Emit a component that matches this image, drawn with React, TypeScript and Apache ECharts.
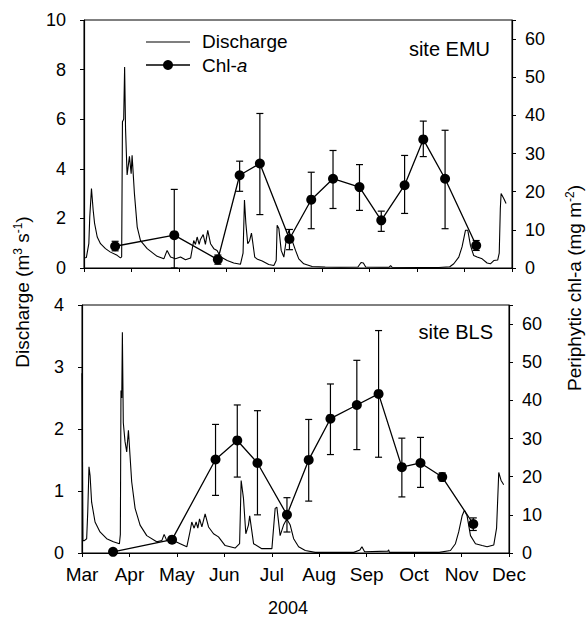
import React, { useEffect, useRef } from 'react';
import * as echarts from 'echarts';

// ---------- data ----------
const MONTHS = ['Mar', 'Apr', 'May', 'Jun', 'Jul', 'Aug', 'Sep', 'Oct', 'Nov', 'Dec'];
const X_SPAN_DAYS = 275; // 1 Mar 2004 .. 1 Dec 2004
const MONTH_STEP = X_SPAN_DAYS / 9;

const dischargeTicksEMU = [0, 2, 4, 6, 8, 10];
const dischargeTicksBLS = [0, 1, 2, 3, 4];
const chlTicks = [0, 10, 20, 30, 40, 50, 60];

// sampling days (days since 1 March 2004)
const sampleDays = [20, 58, 86, 100, 113, 132, 146, 160, 177, 191, 206, 218, 232, 252];

// site EMU periphytic chl-a (mg m-2) with error-bar limits
const emuChl = [5.7, 8.6, 2.2, 24.3, 27.4, 7.6, 17.9, 23.4, 21.2, 12.5, 21.7, 33.7, 23.4, 5.9];
const emuLow = [4.5, 0, 1.0, 20.1, 14.0, 4.8, 10.3, 15.6, 15.1, 9.6, 14.3, 29.2, 10.3, 4.6];
const emuHigh = [7.0, 20.6, 3.4, 28.0, 40.5, 10.1, 25.1, 30.8, 27.1, 14.9, 29.5, 38.5, 36.1, 7.2];

// site BLS periphytic chl-a (mg m-2) with error-bar limits
const blsChl = [0.3, 3.5, 24.5, 29.5, 23.6, 10.0, 24.4, 35.2, 38.8, 41.7, 22.5, 23.6, 19.9, 7.6];
const blsLow = [0.3, 3.0, 15.1, 19.9, 10.0, 5.5, 13.6, 25.8, 27.1, 25.1, 14.7, 17.2, 18.9, 5.9];
const blsHigh = [0.3, 4.0, 33.7, 38.8, 37.3, 14.5, 35.0, 44.3, 50.5, 58.3, 30.1, 30.3, 21.0, 9.2];

// discharge (m3 s-1): [day since 1 March, value]
const emuDischarge = [
  [0, 0.4], [1.5, 0.42], [3.1, 0.98], [3.7, 2.06], [4.8, 3.2], [5.9, 2.33], [6.8, 1.8], [8.5, 1.25],
  [10.6, 0.98], [13.8, 0.78], [17, 0.64], [21.3, 0.51], [23.4, 0.41], [24.2, 0.45], [24.7, 5.9],
  [25.5, 6.0], [26.1, 8.1], [26.7, 5.6], [27.7, 3.75], [29.2, 4.5], [30.3, 3.8], [30.9, 4.55],
  [32.4, 3.0], [34.2, 1.65], [36.3, 1.1], [40.6, 0.78], [47, 0.47], [51.3, 0.37], [53.4, 0.71],
  [55.6, 0.44], [58.8, 0.37], [62, 0.44], [65.2, 0.33], [68.5, 0.4], [70.5, 1.11], [71.6, 0.95],
  [72.7, 1.25], [74, 0.95], [74.8, 1.15], [76.6, 1.35], [78, 0.95], [79.5, 1.52], [81.3, 0.98],
  [83.4, 0.78], [85.5, 0.71], [87.7, 0.45], [92, 0.3], [96.2, 0.2], [100.5, 0.15], [102.2, 0.6],
  [103.1, 2.74], [104, 1.8], [105.2, 0.98], [106.4, 1.1], [107.6, 1.41], [108.5, 1.0], [109.7, 0.44],
  [111.5, 0.35], [114.5, 0.28], [118.7, 0.14], [122, 0.1], [123.5, 0.3], [124.1, 1.72], [125.2, 1.59],
  [126.7, 0.71], [128.4, 0.44], [129.9, 1.11], [131.6, 1.52], [133.7, 1.11], [135.9, 0.71], [138, 0.37],
  [141.2, 0.17], [146.6, 0.06], [155, 0.04], [165, 0.03], [176, 0.04], [178, 0.22], [179.5, 0.2],
  [181, 0.04], [190, 0.03], [196, 0.03], [197, 0.1], [198, 0.03], [215, 0.02], [228, 0.02], [235, 0.05],
  [237.6, 0.17], [240.8, 0.44], [242.9, 0.85], [245.1, 1.52], [246.6, 1.52], [248.3, 0.91], [250.4, 0.5],
  [252.6, 0.44], [255.8, 0.37], [259, 0.2], [261.1, 0.17], [263.3, 0.3], [265.8, 0.32], [266.8, 0.6],
  [267.5, 2.4], [268, 3.0], [269.7, 2.8], [271.2, 2.6],
];

const blsDischarge = [
  [0, 2.9], [0.6, 0.2], [1.5, 0.2], [3, 0.23], [3.7, 0.66], [4.5, 1.39], [5.2, 1.25], [6.2, 0.82],
  [8.4, 0.5], [11.6, 0.34], [15.9, 0.23], [20.2, 0.18], [24.1, 0.15], [24.7, 0.3], [25.1, 2.62],
  [25.6, 2.5], [26, 3.56], [26.6, 2.1], [27.7, 1.8], [28.8, 1.63], [29.9, 1.98], [30.9, 1.58],
  [32, 1.15], [34.2, 0.72], [37.4, 0.45], [41.7, 0.28], [48.1, 0.18], [51.4, 0.2], [52.9, 0.3],
  [54.6, 0.2], [58.9, 0.2], [63.2, 0.15], [67.5, 0.1], [69.6, 0.35], [70.7, 0.5], [72.2, 0.4],
  [73.5, 0.5], [74.6, 0.4], [75.7, 0.55], [77.2, 0.42], [79.3, 0.63], [81.5, 0.42], [84.7, 0.31],
  [87.9, 0.26], [92.2, 0.12], [98.6, 0.08], [101.5, 0.15], [102.5, 1.17], [104, 0.88], [105.5, 0.31],
  [107.2, 0.45], [108, 0.6], [109.4, 0.35], [110.5, 0.15], [115.8, 0.07], [122.3, 0.07], [124.4, 0.72],
  [125.5, 0.74], [127.6, 0.28], [129.8, 0.45], [131.9, 0.55], [134.1, 0.45], [136.3, 0.23], [139.5, 0.1],
  [143.8, 0.04], [150.2, 0.01], [175, 0.01], [179, 0.05], [180.3, 0.1], [182, 0.02], [197, 0.03],
  [197.5, 0.05], [198, 0.01], [230, 0.01], [237.3, 0.04], [240.5, 0.15], [242.6, 0.34], [244.8, 0.6],
  [246.3, 0.69], [248, 0.6], [250.2, 0.28], [253.4, 0.15], [257.7, 0.12], [260.9, 0.1], [265.2, 0.13],
  [267, 0.4], [268.4, 1.3], [269.9, 1.17], [271.6, 1.1],
];

// ---------- chart ----------
const FONT = 'Liberation Sans, Arial, Helvetica, sans-serif';
const BLACK = '#000';

function xAxisDef(gridIndex: number, showLabels: boolean) {
  return {
    type: 'value', gridIndex, min: 0, max: X_SPAN_DAYS, interval: MONTH_STEP,
    axisLine: { onZero: false, lineStyle: { color: BLACK, width: 1.2 } },
    axisTick: { show: true, length: 4, lineStyle: { color: BLACK, width: 1 } },
    axisLabel: {
      show: showLabels, color: BLACK, fontFamily: FONT, fontSize: 19, margin: 12,
      formatter: (v: number) => MONTHS[Math.round(v / MONTH_STEP)] ?? '',
    },
    splitLine: { show: false },
  };
}

function yAxisDef(gridIndex: number, position: 'left' | 'right', ticks: number[], margin: number) {
  const step = ticks[1] - ticks[0];
  const top = ticks[ticks.length - 1];
  const isChl = position === 'right';
  return {
    type: 'value', gridIndex, position, min: 0, max: isChl ? 65 : top, interval: step,
    axisLine: { show: true, onZero: false, lineStyle: { color: BLACK, width: 1.2 } },
    axisTick: { show: true, length: 4, lineStyle: { color: BLACK, width: 1 } },
    axisLabel: {
      color: BLACK, fontFamily: FONT, fontSize: 18, margin,
      formatter: (v: number) => (ticks.indexOf(v) >= 0 ? String(v) : ''),
    },
    splitLine: { show: false },
  };
}

function errorBarSeries(xAxisIndex: number, yAxisIndex: number, low: number[], high: number[]) {
  return {
    type: 'custom', xAxisIndex, yAxisIndex,
    encode: { x: 0, y: [1, 2] },
    data: sampleDays.map((d, i) => [d, low[i], high[i]]),
    z: 3,
    renderItem: (params: any, api: any) => {
      const x = api.value(0);
      const lo = api.coord([x, api.value(1)]);
      const hi = api.coord([x, api.value(2)]);
      const hw = 3.5;
      const style = { stroke: BLACK, lineWidth: 1.2 };
      return {
        type: 'group',
        children: [
          { type: 'line', shape: { x1: lo[0], y1: lo[1], x2: hi[0], y2: hi[1] }, style },
          { type: 'line', shape: { x1: hi[0] - hw, y1: hi[1], x2: hi[0] + hw, y2: hi[1] }, style },
          { type: 'line', shape: { x1: lo[0] - hw, y1: lo[1], x2: lo[0] + hw, y2: lo[1] }, style },
        ],
      };
    },
  };
}

function dischargeSeries(name: string, xAxisIndex: number, yAxisIndex: number, data: number[][]) {
  return {
    name, type: 'line', xAxisIndex, yAxisIndex, data,
    showSymbol: false, symbol: 'none',
    lineStyle: { color: BLACK, width: 1.1 }, z: 2,
  };
}

function chlSeries(name: string, xAxisIndex: number, yAxisIndex: number, vals: number[]) {
  return {
    name, type: 'line', xAxisIndex, yAxisIndex,
    data: sampleDays.map((d, i) => [d, vals[i]]),
    symbol: 'circle', symbolSize: 10,
    itemStyle: { color: BLACK }, lineStyle: { color: BLACK, width: 1.3 }, z: 4,
  };
}

export default function App() {
  const ref = useRef<HTMLDivElement>(null);
  useEffect(() => {
    document.body.style.margin = '0';
    const chart = echarts.init(ref.current!, null, { renderer: 'svg' });
    const titleRich = {
      n: { fontFamily: FONT, fontSize: 19, fill: BLACK, color: BLACK },
      s: { fontFamily: FONT, fontSize: 12, fill: BLACK, color: BLACK, verticalAlign: 'top', padding: [0, 0, 8, 0] },
    };
    chart.setOption({
      animation: false,
      backgroundColor: '#fff',
      grid: [
        { left: 84, top: 20, width: 428, height: 248, show: true, borderColor: BLACK, borderWidth: 1, containLabel: false },
        { left: 82, top: 305, width: 427, height: 248, show: true, borderColor: BLACK, borderWidth: 1, containLabel: false },
      ],
      xAxis: [xAxisDef(0, false), xAxisDef(1, true)],
      yAxis: [
        yAxisDef(0, 'left', dischargeTicksEMU, 18),
        yAxisDef(0, 'right', chlTicks, 13),
        yAxisDef(1, 'left', dischargeTicksBLS, 18),
        yAxisDef(1, 'right', chlTicks, 13),
      ],
      series: [
        dischargeSeries('Discharge EMU', 0, 0, emuDischarge),
        errorBarSeries(0, 1, emuLow, emuHigh),
        chlSeries('Chl-a EMU', 0, 1, emuChl),
        dischargeSeries('Discharge BLS', 1, 2, blsDischarge),
        errorBarSeries(1, 3, blsLow, blsHigh),
        chlSeries('Chl-a BLS', 1, 3, blsChl),
      ],
      graphic: [
        // legend
        { type: 'line', shape: { x1: 146, y1: 42, x2: 190, y2: 42 }, style: { stroke: BLACK, lineWidth: 1.2 } },
        { type: 'text', x: 202, y: 41, style: { text: 'Discharge', font: `19px ${FONT}`, fill: BLACK, verticalAlign: 'middle', textVerticalAlign: 'middle' } },
        { type: 'line', shape: { x1: 146, y1: 65, x2: 190, y2: 65 }, style: { stroke: BLACK, lineWidth: 1.3 } },
        { type: 'circle', shape: { cx: 168, cy: 65, r: 5 }, style: { fill: BLACK } },
        {
          type: 'text', x: 202, y: 65,
          style: {
            text: '{n|Chl-}{i|a}', verticalAlign: 'middle', textVerticalAlign: 'middle',
            rich: {
              n: { fontFamily: FONT, fontSize: 19, fill: BLACK, color: BLACK },
              i: { fontFamily: FONT, fontSize: 19, fontStyle: 'italic', fill: BLACK, color: BLACK },
            },
          },
        },
        // site labels
        { type: 'text', x: 490, y: 49, style: { text: 'site EMU', font: `20px ${FONT}`, fill: BLACK, align: 'right', textAlign: 'right', verticalAlign: 'middle', textVerticalAlign: 'middle' } },
        { type: 'text', x: 493, y: 332, style: { text: 'site BLS', font: `20px ${FONT}`, fill: BLACK, align: 'right', textAlign: 'right', verticalAlign: 'middle', textVerticalAlign: 'middle' } },
        // x title
        { type: 'text', x: 288, y: 608, style: { text: '2004', font: `18px ${FONT}`, fill: BLACK, align: 'center', textAlign: 'center', verticalAlign: 'middle', textVerticalAlign: 'middle' } },
        // y titles
        {
          type: 'text', x: 22, y: 292, rotation: Math.PI / 2,
          style: {
            text: '{n|Discharge (m}{s|3}{n| s}{s|-1}{n|)}',
            align: 'center', textAlign: 'center', verticalAlign: 'middle', textVerticalAlign: 'middle',
            rich: titleRich,
          },
        },
        {
          type: 'text', x: 574, y: 288, rotation: Math.PI / 2,
          style: {
            text: '{n|Periphytic chl-a (mg m}{s|-2}{n|)}',
            align: 'center', textAlign: 'center', verticalAlign: 'middle', textVerticalAlign: 'middle',
            rich: titleRich,
          },
        },
      ],
    });
    return () => chart.dispose();
  }, []);
  return <div ref={ref} style={{ width: 588, height: 620 }} />;
}
